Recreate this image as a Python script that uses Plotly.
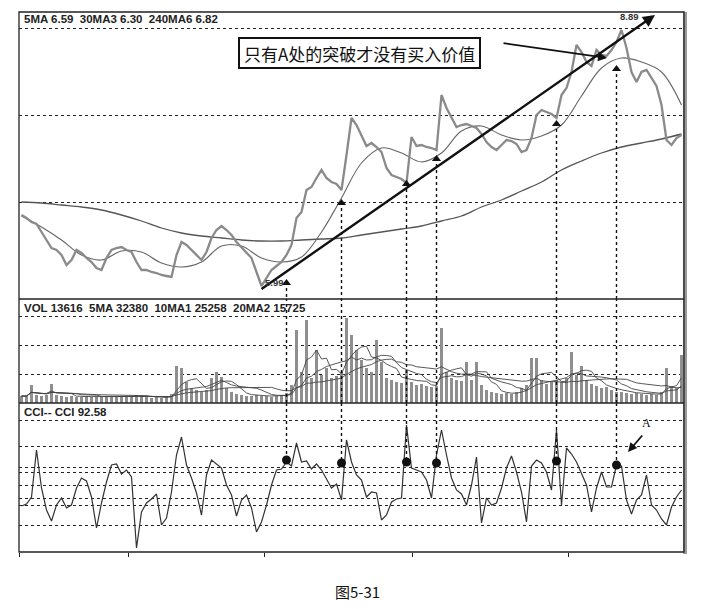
import plotly.graph_objects as go
import pandas as pd

# ---------------- data ----------------
days = list(range(133))

close = [6.72, 6.69, 6.65, 6.63, 6.55, 6.47, 6.39, 6.37, 6.32, 6.22,
         6.27, 6.37, 6.34, 6.29, 6.25, 6.19, 6.17, 6.29, 6.37, 6.39,
         6.40, 6.37, 6.35, 6.25, 6.17, 6.17, 6.15, 6.14, 6.12, 6.11,
         6.10, 6.32, 6.45, 6.42, 6.37, 6.32, 6.27, 6.35, 6.49, 6.57,
         6.61, 6.57, 6.52, 6.45, 6.40, 6.35, 6.29, 6.15, 6.01, 6.09,
         6.17, 6.21, 6.25, 6.32, 6.42, 6.69, 6.75, 6.97, 7.00, 7.09,
         7.17, 7.09, 7.05, 7.03, 6.97, 7.32, 7.69, 7.62, 7.52, 7.41,
         7.44, 7.40, 7.35, 7.19, 7.12, 7.10, 7.08, 7.04, 7.50, 7.41,
         7.42, 7.40, 7.39, 7.37, 7.92, 7.79, 7.69, 7.60, 7.62, 7.63,
         7.61, 7.59, 7.53, 7.45, 7.40, 7.37, 7.42, 7.47, 7.46, 7.43,
         7.35, 7.37, 7.49, 7.72, 7.77, 7.75, 7.73, 7.69, 7.92, 7.99,
         8.15, 8.42, 8.35, 8.25, 8.21, 8.37, 8.32, 8.31, 8.37, 8.45,
         8.57, 8.39, 8.15, 8.05, 8.15, 8.17, 8.09, 8.01, 7.82, 7.47,
         7.42, 7.49, 7.52]

ma_days = [0, 4, 8, 12, 16, 20, 24, 28, 32, 36, 40, 44, 48, 52, 56, 60, 64,
           68, 72, 76, 80, 84, 88, 92, 96, 100, 104, 108, 112, 116, 120, 124,
           128, 132]
ma30 = [6.71, 6.60, 6.47, 6.32, 6.27, 6.36, 6.35, 6.24, 6.20, 6.25, 6.41,
        6.41, 6.29, 6.25, 6.30, 6.55, 6.89, 7.24, 7.39, 7.34, 7.25, 7.34,
        7.56, 7.61, 7.52, 7.47, 7.51, 7.62, 7.91, 8.19, 8.29, 8.25, 8.15,
        7.82]
ma240 = [6.85, 6.84, 6.82, 6.80, 6.77, 6.72, 6.66, 6.59, 6.54, 6.51, 6.49,
         6.47, 6.46, 6.46, 6.47, 6.48, 6.49, 6.52, 6.55, 6.58, 6.61, 6.66,
         6.71, 6.80, 6.87, 6.96, 7.05, 7.17, 7.26, 7.34, 7.40, 7.44, 7.48,
         7.53]

volume = [2400, 2400, 6200, 2800, 2400, 2800, 6600, 2800, 2400, 2100,
          2400, 2100, 2100, 2400, 2100, 2100, 2100, 2400, 2400, 2100,
          2400, 2100, 2400, 2800, 2400, 2100, 1700, 2100, 1700, 2100,
          3100, 12800, 12100, 7200, 5200, 4500, 3800, 4500, 8600, 10700,
          9000, 5200, 3800, 3100, 2800, 2400, 2400, 2800, 2400, 2400,
          2100, 2400, 2800, 3500, 6200, 25200, 10700, 28600, 8600, 18300,
          9700, 12100, 8600, 9300, 10700, 29300, 23500, 18300, 14800, 12100,
          10700, 21700, 14100, 8600, 7900, 7200, 6900, 11400, 7200, 6200,
          6600, 5900, 5500, 5900, 25900, 10700, 8600, 7900, 7600, 14100,
          7900, 14100, 6200, 4500, 3800, 3500, 3100, 3500, 3100, 3800,
          5200, 6200, 15500, 15500, 7900, 6600, 7200, 7900, 7200, 8600,
          17600, 9700, 12800, 7900, 6600, 5900, 5200, 5500, 4500, 3800,
          3800, 3500, 3100, 3500, 3100, 2800, 3100, 2800, 3800, 12100,
          5900, 5200, 16600]

cci = [-105, -95, -60, 175, -15, -125, -180, -100, -65, -115,
       -100, -15, 35, 20, -60, -215, -90, 15, 100, 105,
       55, 75, 40, -315, -135, -90, -70, -45, -200, -165,
       -35, 150, 240, 100, 35, -40, -150, 50, 125, 105,
       85, 0, -50, -155, -75, -50, -115, -235, -185, -100,
       0, 75, 80, 115, 95, 210, 115, 120, 80, 105,
       75, 30, -15, 5, -75, 225, 115, 50, 25, -60,
       -35, -40, -175, -150, -85, -70, -65, 300, 85, 75,
       65, 25, -65, 150, 275, 150, 35, -25, -45, -100,
       0, 140, -190, -65, -100, -90, -15, 85, 145, 65,
       -35, -185, 95, 125, 110, 65, -25, 275, -100, 185,
       155, 115, 60, 0, -135, -15, 65, -10, -10, 100,
       95, -75, -145, -75, -50, 50, -100, -125, -170, -200,
       -110, -60, -25]

# breakout points: day, price at triangle, CCI value at dot
break_days = [53, 64, 77, 83, 107, 119]
break_price = [6.04, 6.84, 7.03, 7.28, 7.63, 8.18]
break_cci = [125, 110, 115, 110, 120, 100]

legend_price = "5MA 6.59  30MA3 6.30  240MA6 6.82"
legend_vol = "VOL 13616  5MA 32380  10MA1 25258  20MA2 15725"
legend_cci = "CCI-- CCI 92.58"
low_label, high_label = "5.99", "8.89"
note_text = "只有A处的突破才没有买入价值"
caption = "图5-31"

# ---------------- geometry helpers ----------------
W, H = 713, 609
def px(x):
    return x / W
def py(y):
    return 1 - y / H

L, R = 19, 684
T_PRICE, B_PRICE = 12, 299
B_VOL = 403
B_CCI = 552

PRICE_RANGE = [5.88, 8.75]
VOL_RANGE = [0, 35880]
CCI_RANGE = [-335, 410]

vol_s = pd.Series(volume)
vma5 = vol_s.rolling(5, min_periods=1).mean().tolist()
vma10 = vol_s.rolling(10, min_periods=1).mean().tolist()
vma20 = vol_s.rolling(20, min_periods=1).mean().tolist()

fig = go.Figure()

# price panel
fig.add_trace(go.Scatter(x=ma_days, y=ma240, mode="lines", line=dict(color="#555", width=1.3, shape="spline"),
                         xaxis="x", yaxis="y", hoverinfo="skip"))
fig.add_trace(go.Scatter(x=ma_days, y=ma30, mode="lines", line=dict(color="#666", width=1.1, shape="spline"),
                         xaxis="x", yaxis="y", hoverinfo="skip"))
fig.add_trace(go.Scatter(x=days, y=close, mode="lines", line=dict(color="#8a8a8a", width=2.3),
                         xaxis="x", yaxis="y"))
fig.add_trace(go.Scatter(x=break_days, y=break_price, mode="markers",
                         marker=dict(symbol="triangle-up", size=8, color="#111"),
                         xaxis="x", yaxis="y"))

# volume panel
fig.add_trace(go.Bar(x=days, y=volume, marker=dict(color="#8f8f8f", line=dict(width=0)), width=0.55,
                     xaxis="x2", yaxis="y2"))
for m in (vma5, vma10, vma20):
    fig.add_trace(go.Scatter(x=days, y=m, mode="lines", line=dict(color="#444", width=0.9),
                             xaxis="x2", yaxis="y2", hoverinfo="skip"))

# CCI panel
fig.add_trace(go.Scatter(x=days, y=cci, mode="lines", line=dict(color="#333", width=1.2),
                         xaxis="x3", yaxis="y3"))
fig.add_trace(go.Scatter(x=break_days, y=break_cci, mode="markers",
                         marker=dict(symbol="circle", size=9, color="#111"),
                         xaxis="x3", yaxis="y3"))

xcommon = dict(range=[-0.5, 132.5], domain=[px(L), px(R)], showgrid=False, zeroline=False,
               showticklabels=False, showline=False, fixedrange=True)
gridc = dict(showgrid=True, gridcolor="#222", griddash="dot", gridwidth=1, zeroline=False,
             showticklabels=False, showline=False, ticks="", fixedrange=True)

fig.update_layout(
    width=W, height=H, margin=dict(l=0, r=0, t=0, b=0),
    paper_bgcolor="white", plot_bgcolor="white", showlegend=False, bargap=0,
    xaxis=dict(anchor="y", **xcommon),
    xaxis2=dict(anchor="y2", matches="x", **xcommon),
    xaxis3=dict(anchor="y3", matches="x", ticks="outside", ticklen=4, tickcolor="#222",
                tickvals=[-0.5, 21.3, 48.5, 78.1, 109.3], **xcommon),
    yaxis=dict(anchor="x", domain=[py(B_PRICE), py(T_PRICE)], range=PRICE_RANGE,
               tickvals=[6.85, 7.72, 8.59], **gridc),
    yaxis2=dict(anchor="x2", domain=[py(B_VOL), py(B_PRICE)], range=VOL_RANGE,
                tickvals=[10000, 20000, 30000], **gridc),
    yaxis3=dict(anchor="x3", domain=[py(B_CCI), py(B_VOL)], range=CCI_RANGE,
                tickvals=[325, 195, 90, 65, 0, -65, -100, -200], **gridc),
)

shapes = []
# vertical dotted connectors
for d, p, c in zip(break_days, break_price, break_cci):
    dl = dict(color="#111", width=1.4, dash="dot")
    shapes.append(dict(type="line", xref="x", yref="y", x0=d, x1=d, y0=p - 0.05, y1=PRICE_RANGE[0], line=dl))
    shapes.append(dict(type="line", xref="x", yref="y2", x0=d, x1=d, y0=VOL_RANGE[0], y1=VOL_RANGE[1], line=dl))
    shapes.append(dict(type="line", xref="x", yref="y3", x0=d, x1=d, y0=CCI_RANGE[1], y1=c, line=dl))

# frame & separators
shapes.append(dict(type="rect", xref="paper", yref="paper", x0=px(R - 1), x1=px(R + 3), y0=py(B_CCI + 2), y1=py(T_PRICE),
                   line=dict(width=0), fillcolor="#9a9a9a"))
shapes.append(dict(type="rect", xref="paper", yref="paper", x0=px(L), x1=px(R), y0=py(B_CCI), y1=py(T_PRICE),
                   line=dict(color="#222", width=1.3)))
for yy in (B_PRICE, B_VOL):
    shapes.append(dict(type="line", xref="paper", yref="paper", x0=px(L), x1=px(R), y0=py(yy), y1=py(yy),
                       line=dict(color="#222", width=1.6)))
# note box
shapes.append(dict(type="rect", xref="paper", yref="paper", x0=px(239), x1=px(480), y0=py(68), y1=py(38),
                   line=dict(color="#111", width=2), fillcolor="white"))
fig.update_layout(shapes=shapes)

ann = []
lf = dict(family="Liberation Sans, Arial, sans-serif", size=11.5, color="#222")
ann.append(dict(xref="paper", yref="paper", x=px(22), y=py(19), text="<b>" + legend_price + "</b>",
                showarrow=False, xanchor="left", yanchor="middle", font=lf))
ann.append(dict(xref="paper", yref="paper", x=px(22), y=py(308), text="<b>" + legend_vol + "</b>",
                showarrow=False, xanchor="left", yanchor="middle", font=lf))
ann.append(dict(xref="paper", yref="paper", x=px(22), y=py(412), text="<b>" + legend_cci + "</b>",
                showarrow=False, xanchor="left", yanchor="middle", font=lf))
ann.append(dict(xref="paper", yref="paper", x=px(359.5), y=py(53), text=note_text, showarrow=False,
                xanchor="center", yanchor="middle",
                font=dict(family="Noto Sans CJK SC", size=17, color="#111")))
ann.append(dict(xref="paper", yref="paper", x=px(357), y=py(591), text=caption, showarrow=False,
                xanchor="center", yanchor="middle",
                font=dict(family="Noto Sans CJK SC", size=15, color="#111")))
# trend line with arrow
ann.append(dict(xref="x", yref="y", axref="x", ayref="y", x=126.7, y=8.72, ax=47.7, ay=5.97, text="",
                showarrow=True, arrowhead=2, arrowsize=1, arrowwidth=2.4, arrowcolor="#111"))
# pointer arrow from note
ann.append(dict(xref="x", yref="y", axref="x", ayref="y", x=117.1, y=8.29, ax=96.1, ay=8.44, text="",
                showarrow=True, arrowhead=2, arrowsize=1, arrowwidth=1.8, arrowcolor="#111"))
# price labels
ann.append(dict(xref="x", yref="y", x=50.5, y=6.05, text="<b>" + low_label + "</b>", showarrow=False,
                font=dict(family="Liberation Sans", size=9.5, color="#333")))
ann.append(dict(xref="x", yref="y", x=121.6, y=8.70, text="<b>" + high_label + "</b>", showarrow=False,
                font=dict(family="Liberation Sans", size=9.5, color="#333")))
# A label and arrow
ann.append(dict(xref="x3", yref="y3", x=124.9, y=310, text="A", showarrow=False,
                font=dict(family="Liberation Serif", size=12, color="#111")))
ann.append(dict(xref="x3", yref="y3", axref="x3", ayref="y3", x=121.3, y=165, ax=124.4, ay=255, text="",
                showarrow=True, arrowhead=2, arrowsize=1, arrowwidth=1.8, arrowcolor="#111"))
fig.update_layout(annotations=ann)

fig.write_html("out.html", config={"displayModeBar": False, "staticPlot": True},
               post_script="document.body.style.margin='0';document.body.style.padding='0';")
